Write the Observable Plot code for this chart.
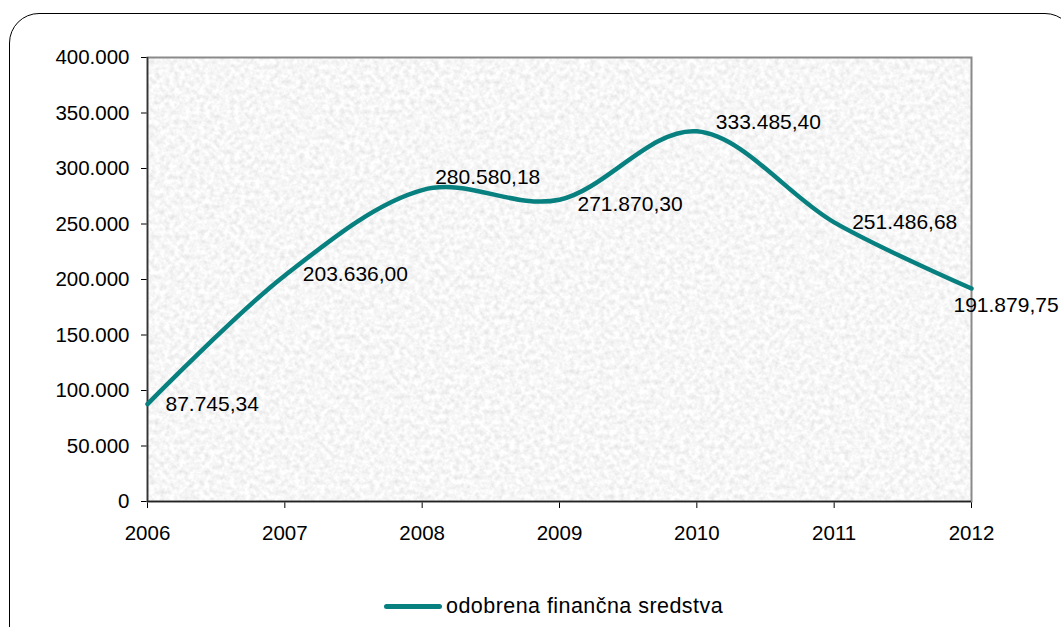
<!DOCTYPE html>
<html>
<head>
<meta charset="utf-8">
<script src="https://cdn.jsdelivr.net/npm/d3@7"></script>
<script src="https://cdn.jsdelivr.net/npm/@observablehq/plot@0.6"></script>
<style>
  html, body { margin: 0; padding: 0; background: #fff; width: 1061px; height: 627px; overflow: hidden; font-family: "Liberation Sans", Arial, sans-serif; }
  #frame { position: absolute; left: 9px; top: 13px; width: 1066px; height: 700px; border: 1.5px solid #000; border-radius: 30px; box-sizing: border-box; }
  #chart { position: absolute; left: 0; top: 0; }
  #legend { position: absolute; left: 384px; top: 594px; display: flex; align-items: center; font-size: 21.5px; letter-spacing: 0.45px; color: #000; }
  #legend .sw { width: 58px; height: 5px; background: #088080; border-radius: 3px; margin-right: 4px; }
</style>
</head>
<body>
<div id="frame"></div>
<div id="chart"></div>
<div id="legend"><span class="sw"></span><span id="legend-text"></span></div>
<script>
const years = [2006, 2007, 2008, 2009, 2010, 2011, 2012];
const values = [87745.34, 203636.00, 280580.18, 271870.30, 333485.40, 251486.68, 191879.75];
const yTicks = [0, 50000, 100000, 150000, 200000, 250000, 300000, 350000, 400000];
const seriesName = "odobrena finančna sredstva";

document.getElementById("legend-text").textContent = seriesName;

const data = years.map((y, i) => ({year: y, value: values[i]}));

const loc = d3.formatLocale({decimal: ",", thousands: ".", grouping: [3], currency: ["", ""]});
const fmtLabel = loc.format(",.2f");
const fmtTick = loc.format(",.0f");

const teal = "#088080";

// textured light-gray plot background
function texture(index, scales, values, dims) {
  const ns = "http://www.w3.org/2000/svg";
  const g = document.createElementNS(ns, "g");
  const x = dims.marginLeft, y = dims.marginTop;
  const w = dims.width - dims.marginLeft - dims.marginRight;
  const h = dims.height - dims.marginTop - dims.marginBottom;
  g.innerHTML = `<defs><filter id="noiseTex" x="0" y="0" width="100%" height="100%" filterUnits="objectBoundingBox">
      <feTurbulence type="fractalNoise" baseFrequency="0.2" numOctaves="3" seed="7" result="n"/>
      <feColorMatrix in="n" type="matrix" values="0.38 0 0 0 0.735  0.38 0 0 0 0.735  0.38 0 0 0 0.735  0 0 0 0 1"/>
    </filter></defs>
    <rect x="${x}" y="${y}" width="${w}" height="${h}" fill="#ebebeb" filter="url(#noiseTex)"/>`;
  return g;
}

const placements = [
  {idx: [0, 5], dx: 18, dy: 0, anchor: "start"},
  {idx: [1], dx: 18, dy: -1, anchor: "start"},
  {idx: [2], dx: 13, dy: -13, anchor: "start"},
  {idx: [3], dx: 18, dy: 5, anchor: "start"},
  {idx: [4], dx: 19, dy: -9, anchor: "start"},
  {idx: [6], dx: -18, dy: 17, anchor: "start"}
];

const labelMarks = placements.map(p =>
  Plot.text(data, {
    filter: (d, i) => p.idx.includes(i),
    x: "year", y: "value",
    text: d => fmtLabel(d.value),
    dx: p.dx, dy: p.dy, textAnchor: p.anchor,
    fill: "#000", fontSize: 21
  })
);

const plot = Plot.plot({
  width: 1061,
  height: 560,
  marginLeft: 147,
  marginRight: 90,
  marginTop: 57,
  marginBottom: 59,
  style: {fontFamily: "'Liberation Sans', Arial, sans-serif", fontSize: "20.5px", color: "#000", background: "transparent", overflow: "visible"},
  x: {domain: [2006, 2012], ticks: years, tickFormat: d => String(d), tickSize: 7, tickPadding: 17, label: null},
  y: {domain: [0, 400000], ticks: yTicks, tickFormat: fmtTick, tickSize: 6, tickPadding: 12, label: null},
  marks: [
    texture,
    Plot.frame({stroke: "#8a8a8a", strokeWidth: 2}),
    Plot.ruleX([2006], {stroke: "#333", strokeWidth: 1.5}),
    Plot.ruleY([0], {stroke: "#222", strokeWidth: 1.5}),
    Plot.line(data, {x: "year", y: "value", curve: "cardinal", stroke: teal, strokeWidth: 4.5, strokeLinecap: "round", strokeLinejoin: "round"}),
    ...labelMarks
  ]
});
document.getElementById("chart").appendChild(plot);
</script>
</body>
</html>
